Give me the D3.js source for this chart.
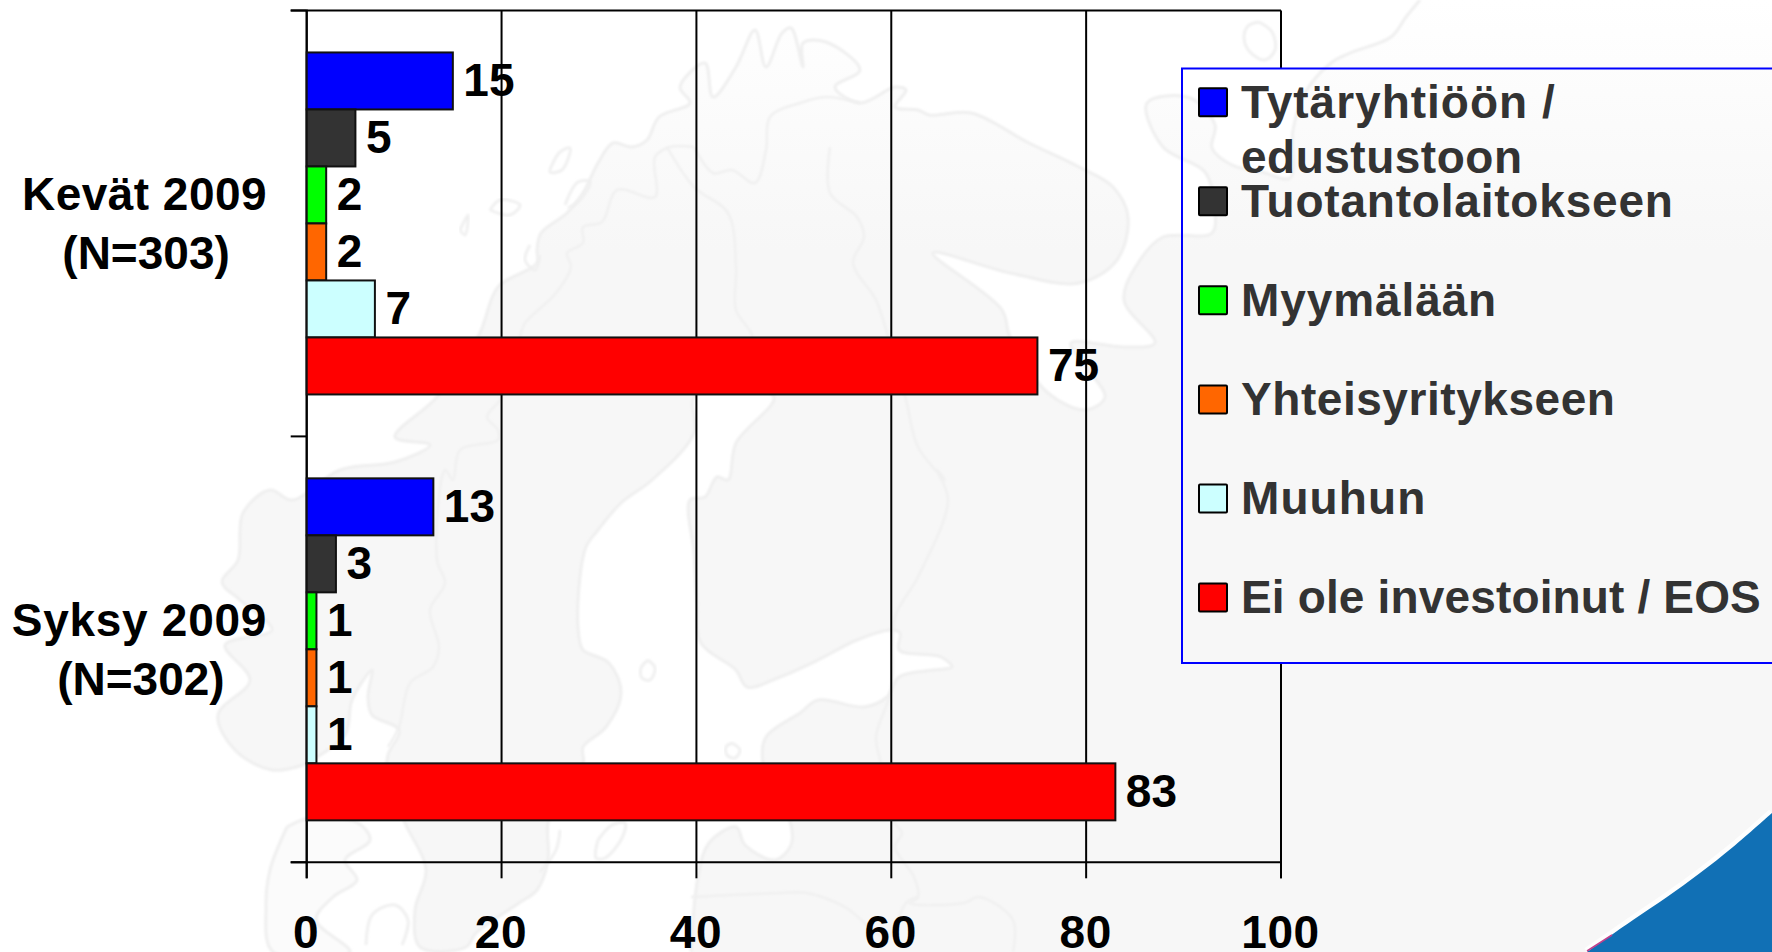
<!DOCTYPE html>
<html lang="fi">
<head>
<meta charset="utf-8">
<title>Investoinnit</title>
<script src="https://cdn.jsdelivr.net/npm/d3@7"></script>
<style>
html,body{margin:0;padding:0;background:#fff;overflow:hidden}
svg{display:block}
text{font-family:"Liberation Sans",Arial,sans-serif;font-weight:700}
</style>
</head>
<body>
<svg id="chart" width="1772" height="952"></svg>
<script>
// ---- chart data ----
const categories = ["Kevät 2009", "Syksy 2009"];
const categoryNotes = ["(N=303)", "(N=302)"];
const seriesNames = ["Tytäryhtiöön / edustustoon", "Tuotantolaitokseen", "Myymälään", "Yhteisyritykseen", "Muuhun", "Ei ole investoinut / EOS"];
const legendLines = [["Tytäryhtiöön /", "edustustoon"], ["Tuotantolaitokseen"], ["Myymälään"], ["Yhteisyritykseen"], ["Muuhun"], ["Ei ole investoinut / EOS"]];
const seriesColors = ["#0000ff", "#333333", "#00ff00", "#ff6600", "#ccffff", "#ff0000"];
const kevatValues = [15, 5, 2, 2, 7, 75];
const syksyValues = [13, 3, 1, 1, 1, 83];
const xTicks = [0, 20, 40, 60, 80, 100];

// ---- text tracking, matched to the reference's line widths ----
const legendTracking = [[1, 0.5], [0.8], [0.9], [0.55], [1.1], [0.15]];
const categoryTracking = [0.45, 0.7];

// ---- decorative backdrop outlines (page picture, not data), full-page pixels ----
const coastNorth = [[303,765],[272,770],[235,750],[218,715],[250,680],[225,645],[272,630],[240,600],[222,582],[238,560],[243,513],[270,490],[292,500],[340,470],[395,462],[430,445],[395,437],[437,397],[479,335],[498,287],[537,263],[537,250],[541,233],[567,213],[583,193],[598,163],[613,143],[632,147],[647,140],[659,117],[690,103],[680,87],[705,63],[713,97],[736,67],[755,30],[766,67],[782,33],[791,28],[803,67],[803,43],[826,42],[860,70],[835,87],[860,103],[895,87],[906,90],[895,107],[918,110],[929,115],[971,113],[1029,143],[1079,167],[1113,187],[1128,217],[1117,260],[1079,283],[1010,273],[933,253],[1002,310],[1010,337],[1048,393],[1086,410],[1105,397],[1086,367],[1071,343],[1124,347],[1155,343],[1124,300],[1140,260],[1163,237],[1212,233],[1214,205],[1205,172],[1163,147],[1147,103],[1190,98],[1215,125],[1212,148],[1232,165],[1262,172],[1290,178],[1293,130],[1305,93],[1331,63],[1350,53],[1391,37],[1406,17],[1420,0]];
const coastBaltic = [[691,952],[698,877],[709,843],[736,827],[745,845],[775,860],[791,845],[791,825],[763,763],[766,737],[800,713],[818,700],[864,707],[887,697],[899,677],[933,670],[952,667],[941,657],[899,650],[900,633],[891,630],[857,640],[818,660],[780,677],[747,687],[736,670],[701,643],[697,603],[694,553],[690,500],[705,497],[717,477],[728,480],[736,443],[774,397],[730,385],[694,397],[694,433],[652,480],[621,503],[598,530],[586,547],[579,587],[579,637],[583,650],[609,663],[621,693],[606,727],[583,747],[583,763],[560,790],[548,823],[548,860],[537,890],[519,903],[476,933],[466,947],[420,947],[415,910],[426,870],[405,823],[387,780],[388,755],[399,730],[372,715],[368,697],[372,670],[352,700],[345,735],[303,765]];
const denmarkOutline = [[287,827],[270,870],[266,907],[273,952],[350,952],[316,920],[333,897],[357,880],[345,860],[370,840],[358,823],[310,818],[287,827]];
const borderLines = [
  [[694,147],[670,147],[655,157],[655,197],[617,190],[602,222],[583,227],[583,243],[567,253],[571,267],[556,293],[525,323],[521,333],[502,397],[487,417],[498,430],[498,440],[460,450],[453,480],[445,470],[437,560],[445,583],[430,610],[439,647],[433,667],[410,683],[399,727],[388,747]],
  [[667,147],[694,187],[728,213],[736,267],[736,310],[751,333],[770,392]],
  [[694,147],[713,173],[732,170],[755,183],[766,150],[770,117],[800,103],[826,97],[860,103]],
  [[830,147],[830,193],[857,217],[864,237],[853,263],[876,300],[887,333],[906,400],[918,447],[945,480],[937,470],[948,500],[918,577],[895,617],[891,690],[876,737],[880,760],[895,823],[902,833],[895,847],[914,877],[918,897],[910,903],[964,903],[979,897],[1013,920],[1013,952]],
  [[691,897],[780,893],[807,893],[845,907],[887,937],[906,903],[918,897]]
];
const islandLines = [
  [[1259,22],[1272,32],[1275,50],[1265,60],[1250,52],[1244,38],[1248,26],[1259,22]],
  [[648,660],[655,668],[650,680],[642,678],[641,668],[648,660]],
  [[732,743],[740,750],[735,758],[727,755],[726,747],[732,743]],
  [[598,840],[612,825],[625,823],[622,838],[605,858],[596,858],[598,840]],
  [[560,830],[556,850],[540,872]],
  [[366,945],[372,915],[395,905],[408,920],[402,945]],
  [[552,165],[560,152],[570,148],[562,170],[550,172],[552,165]],
  [[565,205],[578,182],[590,182],[580,200],[568,208]],
  [[460,230],[468,215],[465,235],[460,230]],
  [[490,210],[500,200],[520,205],[510,215],[490,210]],
  [[530,245],[525,260],[535,270],[540,255]]
];
const swooshEdge = [[1587,952],[1633,920],[1667,897],[1700,873],[1733,847],[1772,813]];

// ---- layout ----
const W = 1772, H = 952;
const plot = {left: 306.7, right: 1281, top: 10.5, bottom: 862.3};
const legendBox = {x: 1182, y: 68.5, w: 600, h: 594.5};
const svg = d3.select("#chart");
const defs = svg.append("defs");

const grad = defs.append("linearGradient").attr("id","landFill")
  .attr("gradientUnits","userSpaceOnUse").attr("x1",0).attr("y1",0).attr("x2",0).attr("y2",250);
grad.append("stop").attr("offset",0).attr("stop-color","#ffffff");
grad.append("stop").attr("offset",1).attr("stop-color","#f7f7f7");
defs.append("filter").attr("id","soft").append("feGaussianBlur").attr("stdDeviation",0.8);
defs.append("clipPath").attr("id","legendClip").append("rect")
  .attr("x",legendBox.x).attr("y",legendBox.y).attr("width",legendBox.w).attr("height",legendBox.h);

// backdrop
const curve = d3.line().curve(d3.curveCatmullRom.alpha(0.5));
const straight = d3.line();
const map = defs.append("g").attr("id","map");
map.append("rect").attr("width",W).attr("height",H).attr("fill","#fff");
const landPath = curve(coastNorth) + "L" + [[W,0],[W,H],[691,H]].join("L") + curve(coastBaltic).replace(/^M/,"L") + "Z";
map.append("path").attr("d",landPath).attr("fill","url(#landFill)").attr("stroke","none");
[coastNorth, coastBaltic].forEach(l => map.append("path").attr("d",curve(l)).attr("fill","none")
  .attr("stroke","#efefef").attr("stroke-width",3).attr("filter","url(#soft)"));
map.append("path").attr("d",curve(denmarkOutline))
  .attr("fill","#fbfbfb").attr("stroke","#efefef").attr("stroke-width",3).attr("filter","url(#soft)");
borderLines.forEach(l => map.append("path").attr("d",curve(l)).attr("fill","none").attr("stroke","#f0f0f0").attr("stroke-width",2.5).attr("filter","url(#soft)"));
islandLines.forEach(l => map.append("path").attr("d",curve(l)).attr("fill","none").attr("stroke","#f0f0f0").attr("stroke-width",3).attr("filter","url(#soft)"));
svg.append("use").attr("href","#map");

// swoosh
const swooshPath = curve(swooshEdge) + "L" + [[W,H],[1587,H]].join("L") + "Z";
const swoosh = svg.append("g");
swoosh.append("path").attr("d",curve(swooshEdge)).attr("fill","none").attr("stroke","#ffffff").attr("stroke-width",9).attr("opacity",0.8);
swoosh.append("path").attr("d",swooshPath).attr("fill","#1170b5");
swoosh.append("path").attr("d",straight([[1587,951],[1612,935]])).attr("stroke","#c0408c").attr("stroke-width",1.5).attr("fill","none");

// scales
const x = d3.scaleLinear().domain([0,100]).range([plot.left, plot.right]);
const yGroup = d3.scaleBand().domain(categories).range([plot.top, plot.bottom]).paddingInner(0.197).paddingOuter(0.0985);
const yBar = d3.scaleBand().domain(seriesNames).range([0, yGroup.bandwidth()]);
const yEdge = d3.scaleLinear().domain([0,2]).range([plot.top, plot.bottom]);
const color = d3.scaleOrdinal().domain(seriesNames).range(seriesColors);
const legendY = d3.scalePoint().domain(seriesNames).range([102.2, 597.6]);

// grid + axes
const gridG = svg.append("g").attr("transform",`translate(0,${plot.bottom})`)
  .call(d3.axisBottom(x).offset(0).tickValues(xTicks).tickSize(-(plot.bottom-plot.top)).tickFormat(""));
gridG.select(".domain").remove();
gridG.selectAll("line").attr("stroke","#000").attr("stroke-width",2);

svg.append("g").attr("transform",`translate(0,${plot.top})`)
  .call(d3.axisTop(x).offset(0).tickValues([]).tickSize(0))
  .select(".domain").attr("stroke","#000").attr("stroke-width",2);

const leftG = svg.append("g").attr("transform",`translate(${plot.left},0)`)
  .call(d3.axisLeft(yEdge).offset(0).ticks(2).tickSize(16).tickFormat(""));
leftG.selectAll("line").attr("stroke","#000").attr("stroke-width",2);
leftG.select(".domain").attr("stroke","#000").attr("stroke-width",2);

const bottomG = svg.append("g").attr("transform",`translate(0,${plot.bottom})`)
  .call(d3.axisBottom(x).offset(0).tickValues(xTicks).tickSize(16).tickFormat(d3.format("d")));
bottomG.select(".domain").attr("stroke","#000").attr("stroke-width",2);
bottomG.selectAll("line").attr("stroke","#000").attr("stroke-width",2);
bottomG.selectAll("text").attr("y",85.7).attr("dy",0).attr("dx",-0.5).attr("fill","#000")
  .attr("font-size",46).attr("font-family",'"Liberation Sans",Arial,sans-serif').attr("font-weight",700)
  .style("letter-spacing","0.6px");

// bars
const rows = [kevatValues, syksyValues].flatMap((vals,i) =>
  vals.map((v,j) => ({cat: categories[i], name: seriesNames[j], value: v})));
svg.append("g").selectAll("rect").data(rows).join("rect")
  .attr("x",x(0))
  .attr("y",d => yGroup(d.cat)+yBar(d.name))
  .attr("width",d => x(d.value)-x(0))
  .attr("height",yBar.bandwidth())
  .attr("fill",d => color(d.name))
  .attr("stroke","#111").attr("stroke-width",2);
svg.append("g").selectAll("text").data(rows).join("text")
  .attr("x",d => x(d.value)+10.5)
  .attr("y",d => yGroup(d.cat)+yBar(d.name)+yBar.bandwidth()/2+15)
  .attr("font-size",46).attr("fill","#000")
  .text(d => d.value);

// category labels: centred on each other, block right edge shared
const catRight = 267;
categories.forEach((c,i) => {
  const cy = yGroup(c)+yGroup.bandwidth()/2;
  const g = svg.append("g").attr("text-anchor","middle").attr("font-size",46).attr("fill","#000");
  const t1 = g.append("text").attr("y",cy-13.5).style("letter-spacing",categoryTracking[i]+"px").text(c);
  const t2 = g.append("text").attr("y",cy+46).text(categoryNotes[i]);
  const cx = catRight - Math.max(t1.node().getComputedTextLength(), t2.node().getComputedTextLength())/2;
  t1.attr("x",cx); t2.attr("x",cx+1.5);
});

// legend: the backdrop shows through, the plot frame does not
svg.append("use").attr("href","#map").attr("clip-path","url(#legendClip)");
svg.append("rect").attr("x",legendBox.x).attr("y",legendBox.y).attr("width",legendBox.w).attr("height",legendBox.h)
  .attr("fill","none").attr("stroke","#0000ff").attr("stroke-width",2);
const leg = svg.append("g").selectAll("g").data(seriesNames).join("g")
  .attr("transform",d => `translate(1199,${legendY(d)})`);
leg.append("rect").attr("x",0).attr("y",-14).attr("width",28).attr("height",28).attr("rx",1)
  .attr("fill",d => color(d)).attr("stroke","#000").attr("stroke-width",2);
leg.each(function(d,i){
  const g = d3.select(this);
  legendLines[i].forEach((line,k) => {
    g.append("text").attr("x",42).attr("y",15.5+k*55).attr("font-size",46).attr("fill","#333")
      .style("letter-spacing",legendTracking[i][k]+"px").text(line);
  });
});
</script>
</body>
</html>
